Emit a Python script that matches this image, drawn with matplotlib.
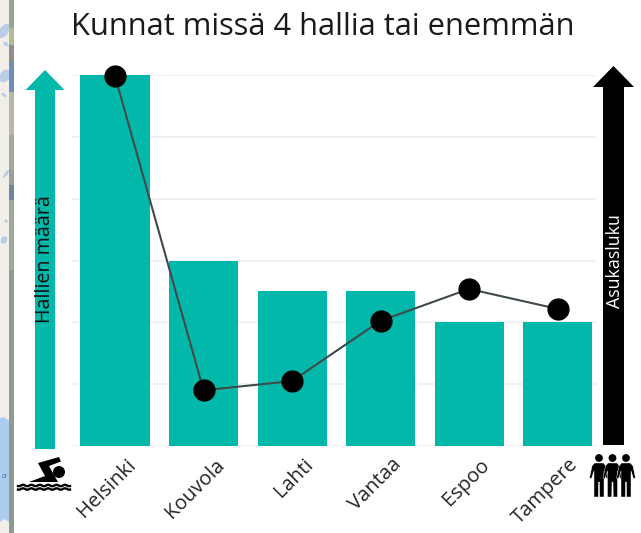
import matplotlib
matplotlib.use('Agg')
import matplotlib.pyplot as plt
import matplotlib.patches as mpatches
import matplotlib.transforms as mtransforms
import numpy as np

plt.rcParams['font.family'] = ['Open Sans', 'DejaVu Sans']

cities = ['Helsinki', 'Kouvola', 'Lahti', 'Vantaa', 'Espoo', 'Tampere']
halls = [12, 6, 5, 5, 4, 4]
population = [650000, 98000, 114000, 220000, 276000, 241000]

TEAL = '#01b8aa'
W, H = 641, 533


def draw_arrow(deco, x, half_shaft, half_head, tip, base, bottom, color):
    pts = [(x - half_shaft, bottom), (x - half_shaft, base), (x - half_head, base), (x, tip),
           (x + half_head, base), (x + half_shaft, base), (x + half_shaft, bottom)]
    deco.add_patch(mpatches.Polygon(pts, closed=True, color=color, lw=0))


def draw_person(deco, x):
    # head and body of one person in the right hand icon
    deco.add_patch(mpatches.Circle((x, 458), 3.9, color='black', lw=0))
    body = [(x - 4.5, 463), (x + 4.5, 463), (x + 7, 466), (x + 9.5, 478), (x + 7.5, 478.5), (x + 5, 471),
            (x + 5, 497), (x + 0.7, 497), (x + 0.5, 482), (x - 0.5, 482), (x - 0.7, 497), (x - 5, 497),
            (x - 5, 471), (x - 7.5, 478.5), (x - 9.5, 478), (x - 7, 466)]
    deco.add_patch(mpatches.Polygon(body, closed=True, fc='black', ec='white', lw=0.3))


def draw_swimmer(deco):
    deco.add_patch(mpatches.Circle((59, 472), 6, color='black', lw=0))
    body = [(29, 482), (45, 476), (38, 463), (59, 457), (61, 461.5), (49, 466), (58, 482)]
    deco.add_patch(mpatches.Polygon(body, closed=True, color='black', lw=0))
    xs = np.linspace(18, 70, 80)
    for y in (485.5, 489):
        deco.plot(xs, y + 0.7 * np.sin(xs * 0.75), color='black', lw=1.7)


def draw_map_strip(deco):
    # bit of a map screenshot showing at the left edge
    deco.add_patch(mpatches.Rectangle((0, 0), 9, H, color='#f2efe9', lw=0))
    for px, py, w, h in [(4, 31, 9, 16), (6, 44, 6, 4), (5, 76, 10, 14), (4, 95, 6, 3),
                         (6, 174, 3, 10), (6, 221, 4, 3), (4, 240, 6, 8)]:
        deco.add_patch(mpatches.Ellipse((px, py), w, h, angle=35, color='#bccde8', lw=0))
    deco.add_patch(mpatches.Rectangle((9, 0), 5, H, color='#8e9a90', lw=0))
    for y0, y1, c in [(0, 28, '#98a395'), (28, 45, '#b3bc94'), (45, 62, '#8f8f8c'), (62, 92, '#6f8db5'),
                      (92, 135, '#b5b8a8'), (135, 170, '#a5a99a'), (170, 195, '#9ba295'),
                      (185, 200, '#6f879f'), (200, 270, '#a3a89c')]:
        deco.add_patch(mpatches.Rectangle((9, y0), 5, y1 - y0, color=c, lw=0))
    deco.add_patch(mpatches.Polygon([(0, 418), (4, 417), (9, 421), (9, 522), (5, 519), (0, 522)],
                                    closed=True, color='#aecbf0', lw=0))
    deco.text(3.5, 476, 'a', fontsize=6, style='italic', color='#44619a', ha='center', va='center')


fig = plt.figure(figsize=(W / 100, H / 100), dpi=100)
ax = fig.add_axes([72 / W, 1 - 446 / H, 525 / W, 371 / H])
x = np.arange(len(cities))
ax.bar(x, halls, width=0.78, color=TEAL, zorder=2)
ax.set_xlim(-0.486, 5.446)
ax.set_ylim(0, 12)
ax.set_yticks([0, 2, 4, 6, 8, 10, 12])
ax.set_yticklabels([])
ax.grid(axis='y', color='#f1f1f1', lw=1.6, zorder=0)
ax.set_axisbelow(True)
ax.tick_params(length=0)
for s in ax.spines.values():
    s.set_visible(False)
ax.set_xticks(x)
ax.set_xticklabels(cities, rotation=45, ha='right', va='center', rotation_mode='anchor',
                   fontsize=14.5, color='#252423')
offset = mtransforms.ScaledTranslation(18 / 100, -11 / 100, fig.dpi_scale_trans)
for lab in ax.get_xticklabels():
    lab.set_transform(lab.get_transform() + offset)

ax2 = ax.twinx()
ax2.plot(x, population, color='#3f4a4a', lw=1.5, marker='o', markersize=15, markerfacecolor='black',
         markeredgecolor='black', clip_on=False, zorder=5)
ax2.set_ylim(0, 652000)
ax2.set_yticks([])
for s in ax2.spines.values():
    s.set_visible(False)

# arrows, icons and title live on a full figure overlay measured in pixels
deco = fig.add_axes([0, 0, 1, 1], zorder=10)
deco.set_xlim(0, W)
deco.set_ylim(H, 0)
deco.axis('off')
draw_map_strip(deco)
draw_arrow(deco, 45, 10, 19.5, 70, 90, 449, TEAL)
draw_arrow(deco, 613.5, 10.5, 20.5, 66, 87, 445, 'black')
deco.text(45, 259, 'Hallien määrä', rotation=90, ha='center', va='center', fontsize=14.2, color='#111111')
deco.text(615, 261, 'Asukasluku', rotation=90, ha='center', va='center', fontsize=12.9, color='white')
deco.text(323, 27, 'Kunnat missä 4 hallia tai enemmän', ha='center', va='center', fontsize=22.2, color='#1a1a1a')
draw_swimmer(deco)
for px in (599, 612.5, 626):
    draw_person(deco, px)

fig.savefig('out.png', dpi=100)
